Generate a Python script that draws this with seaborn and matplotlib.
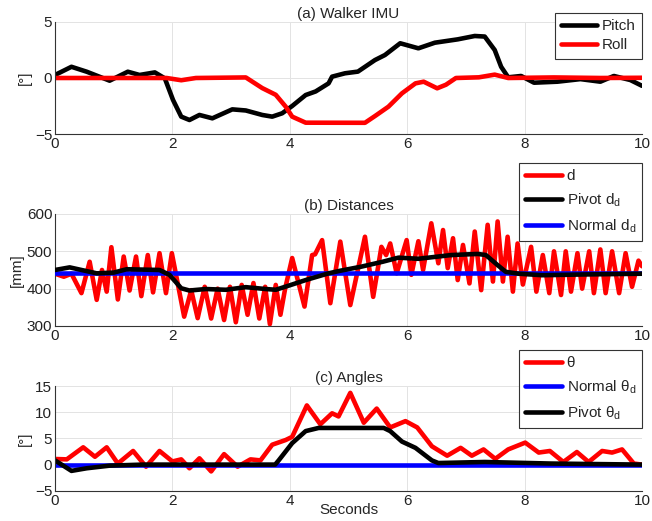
import numpy as np
import pandas as pd
import seaborn as sns
import matplotlib.pyplot as plt

# (a) Walker IMU
t_pitch = [0.00, 0.28, 0.54, 0.93, 1.24, 1.44, 1.70, 1.87, 2.01, 2.15, 2.29, 2.46, 2.68, 3.02, 3.25,
           3.53, 3.70, 3.87, 4.04, 4.27, 4.44, 4.66, 4.72, 4.94, 5.16, 5.45, 5.62, 5.88, 6.19, 6.47,
           6.86, 7.15, 7.32, 7.49, 7.60, 7.72, 7.94, 8.16, 8.56, 8.95, 9.29, 9.52, 9.80, 10.0]
pitch = [0.27, 1.0, 0.56, -0.24, 0.56, 0.27, 0.5, -0.03, -1.96, -3.45, -3.75, -3.3, -3.6, -2.8, -2.9,
         -3.3, -3.45, -3.15, -2.5, -1.52, -1.2, -0.48, 0.12, 0.42, 0.57, 1.6, 2.05, 3.1, 2.65, 3.15,
         3.45, 3.75, 3.7, 2.5, 1.0, 0.06, 0.18, -0.42, -0.33, -0.1, -0.33, 0.18, -0.18, -0.7]
t_roll = [0.00, 1.90, 2.15, 2.40, 3.25, 3.53, 3.76, 3.93, 4.04, 4.27, 5.28, 5.45, 5.68, 5.91, 6.14,
          6.28, 6.51, 6.66, 6.83, 7.22, 7.49, 7.72, 8.50, 9.30, 10.0]
roll = [0.0, 0.0, -0.2, 0.0, 0.05, -0.9, -1.5, -2.56, -3.45, -3.99, -4.0, -3.4, -2.56, -1.37, -0.48,
        -0.33, -0.92, -0.6, 0.0, 0.06, 0.3, 0.0, 0.05, 0.0, 0.02]

# (b) Distances
t_d = [0.00, 0.15, 0.28, 0.45, 0.59, 0.71, 0.80, 0.88, 0.96, 1.07, 1.17, 1.27, 1.38, 1.47, 1.58,
       1.67, 1.78, 1.89, 1.99, 2.20, 2.32, 2.43, 2.55, 2.66, 2.77, 2.88, 2.98, 3.08, 3.18, 3.28,
       3.38, 3.48, 3.58, 3.66, 3.76, 3.84, 3.92, 4.04, 4.25, 4.38, 4.43, 4.55, 4.69, 4.86, 5.03,
       5.28, 5.42, 5.56, 5.64, 5.71, 5.82, 5.99, 6.07, 6.19, 6.27, 6.41, 6.53, 6.61, 6.69, 6.78,
       6.86, 6.95, 7.06, 7.15, 7.26, 7.37, 7.46, 7.54, 7.63, 7.71, 7.80, 7.88, 7.97, 8.11, 8.20,
       8.31, 8.42, 8.50, 8.62, 8.70, 8.79, 8.90, 8.98, 9.10, 9.18, 9.29, 9.38, 9.49, 9.61, 9.72,
       9.83, 9.94, 10.0]
d = [440, 432, 440, 388, 472, 370, 450, 392, 511, 371, 486, 395, 486, 380, 490,
     390, 495, 388, 495, 325, 396, 321, 405, 320, 400, 316, 405, 310, 410, 330,
     415, 320, 405, 305, 410, 330, 400, 482, 352, 490, 492, 530, 361, 526, 356,
     539, 378, 512, 490, 521, 441, 530, 437, 527, 450, 575, 468, 557, 455, 535,
     423, 517, 414, 553, 396, 571, 419, 580, 419, 539, 392, 521, 411, 512, 392,
     490, 388, 500, 383, 500, 392, 495, 400, 500, 388, 505, 388, 500, 388, 495,
     405, 475, 460]
t_pivot_d = [0.00, 0.25, 0.71, 1.00, 1.22, 1.78, 1.95, 2.15, 2.29, 2.57, 2.91, 3.25, 3.59, 3.76, 3.98,
             4.27, 4.66, 4.86, 5.22, 5.58, 5.85, 6.19, 6.75, 7.20, 7.34, 7.54, 7.68, 7.90, 8.30,
             9.00, 10.0]
pivot_d = [450, 457, 441, 443, 452, 450, 437, 401, 395, 399, 397, 404, 399, 397, 408,
           423, 441, 448, 459, 472, 483, 480, 490, 493, 490, 463, 445, 440, 436, 438, 440]
t_normal_d = [0.0, 10.0]
normal_d = [443, 443]

# (c) Angles
t_theta = [0.00, 0.20, 0.48, 0.68, 0.88, 1.07, 1.33, 1.55, 1.78, 2.00, 2.15, 2.29, 2.46, 2.66, 2.88,
           3.11, 3.33, 3.50, 3.70, 3.93, 4.04, 4.29, 4.52, 4.72, 4.83, 5.03, 5.26, 5.48, 5.71, 5.97,
           6.17, 6.42, 6.68, 6.91, 7.10, 7.30, 7.50, 7.72, 8.01, 8.24, 8.43, 8.66, 8.89, 9.09, 9.32,
           9.49, 9.66, 9.86, 10.0]
theta = [1.07, 1.0, 3.3, 1.5, 3.3, 0.2, 2.6, -0.4, 2.6, 0.6, 1.0, -0.7, 1.2, -1.3, 2.0,
         -0.4, 1.0, 0.8, 3.8, 4.7, 5.3, 11.3, 7.7, 9.8, 9.2, 13.7, 8.0, 10.7, 7.1, 8.3,
         7.1, 3.5, 1.7, 3.2, 1.7, 2.9, 1.1, 2.9, 4.2, 2.3, 2.6, 0.5, 2.4, 0.5, 2.6,
         2.3, 2.9, 0.2, 0.0]
t_normal_theta = [0.0, 10.0]
normal_theta = [0.0, 0.0]
t_pivot_theta = [0.00, 0.28, 0.54, 0.93, 1.50, 3.75, 3.81, 4.04, 4.27, 4.49, 5.60, 5.71, 5.91, 6.14,
                 6.42, 6.53, 7.32, 8.45, 10.0]
pivot_theta = [0.8, -1.2, -0.7, -0.2, 0.0, 0.0, 0.8, 4.1, 6.4, 7.0, 7.0, 6.4, 4.4, 3.2,
               0.8, 0.3, 0.5, 0.2, 0.0]

sns.set_theme(style="white")
plt.rcParams['font.family'] = ['Liberation Sans', 'DejaVu Sans']
plt.rcParams['mathtext.fontset'] = 'custom'
plt.rcParams['mathtext.rm'] = 'Liberation Sans'

fig = plt.figure(figsize=(6.52, 5.21), dpi=100)
W = (642 - 55) / 652
ax1 = fig.add_axes([0.0844, 0.7428, W, 0.215])
ax2 = fig.add_axes([0.0844, 0.3743, W, 0.215])
ax3 = fig.add_axes([0.0844, 0.0580, W, 0.201])

lw = 3.3

sns.lineplot(x=t_pitch, y=pitch, color='black', lw=lw, label='Pitch', ax=ax1)
sns.lineplot(x=t_roll, y=roll, color='red', lw=lw, label='Roll', ax=ax1)

sns.lineplot(x=t_d, y=d, color='red', lw=lw, label='d', ax=ax2, zorder=2)
sns.lineplot(x=t_pivot_d, y=pivot_d, color='black', lw=lw, label=r'Pivot d$_\mathregular{d}$', ax=ax2, zorder=4)
sns.lineplot(x=t_normal_d, y=normal_d, color='blue', lw=lw, label=r'Normal d$_\mathregular{d}$', ax=ax2, zorder=3)

sns.lineplot(x=t_theta, y=theta, color='red', lw=lw, label='θ', ax=ax3)
sns.lineplot(x=t_normal_theta, y=normal_theta, color='blue', lw=lw, label=r'Normal θ$_\mathregular{d}$', ax=ax3)
sns.lineplot(x=t_pivot_theta, y=pivot_theta, color='black', lw=lw, label=r'Pivot θ$_\mathregular{d}$', ax=ax3)

settings = [
    (ax1, '(a) Walker IMU', '[°]', (-5, 5), [-5, 0, 5], (642 / 652, 1 - 13 / 521), 0.35),
    (ax2, '(b) Distances', '[mm]', (300, 600), [300, 400, 500, 600], (642 / 652, 1 - 163 / 521), 0.55),
    (ax3, '(c) Angles', '[°]', (-5, 15), [-5, 0, 5, 10, 15], (642 / 652, 1 - 350 / 521), 0.55),
]
for ax, title, ylab, ylim, yticks, anchor, spacing in settings:
    ax.set_xlim(0, 10)
    ax.set_ylim(*ylim)
    ax.set_xticks([0, 2, 4, 6, 8, 10])
    ax.set_yticks(yticks)
    ax.grid(True, color='#e3e3e3', lw=0.7)
    ax.set_axisbelow(True)
    ax.set_title(title, fontsize=11, pad=3)
    ax.set_ylabel(ylab, fontsize=11, labelpad=2)
    ax.set_xlabel('')
    ax.tick_params(direction='in', length=3, labelsize=11, colors='#222222', pad=2)
    for s in ['top', 'right']:
        ax.spines[s].set_visible(False)
    for s in ['left', 'bottom']:
        ax.spines[s].set_color('#333333')
        ax.spines[s].set_linewidth(0.8)
    leg = ax.legend(loc='upper right', bbox_to_anchor=anchor, bbox_transform=fig.transFigure,
                    fontsize=11, frameon=True, fancybox=False, framealpha=1,
                    handlelength=2.4, handletextpad=0.3, labelspacing=spacing, borderpad=0.4,
                    borderaxespad=0)
    leg.get_frame().set_edgecolor('#333333')
    leg.get_frame().set_linewidth(0.8)
    leg.set_zorder(10)

ax3.set_xlabel('Seconds', fontsize=11, labelpad=-3)

fig.savefig('out.png', dpi=100)
